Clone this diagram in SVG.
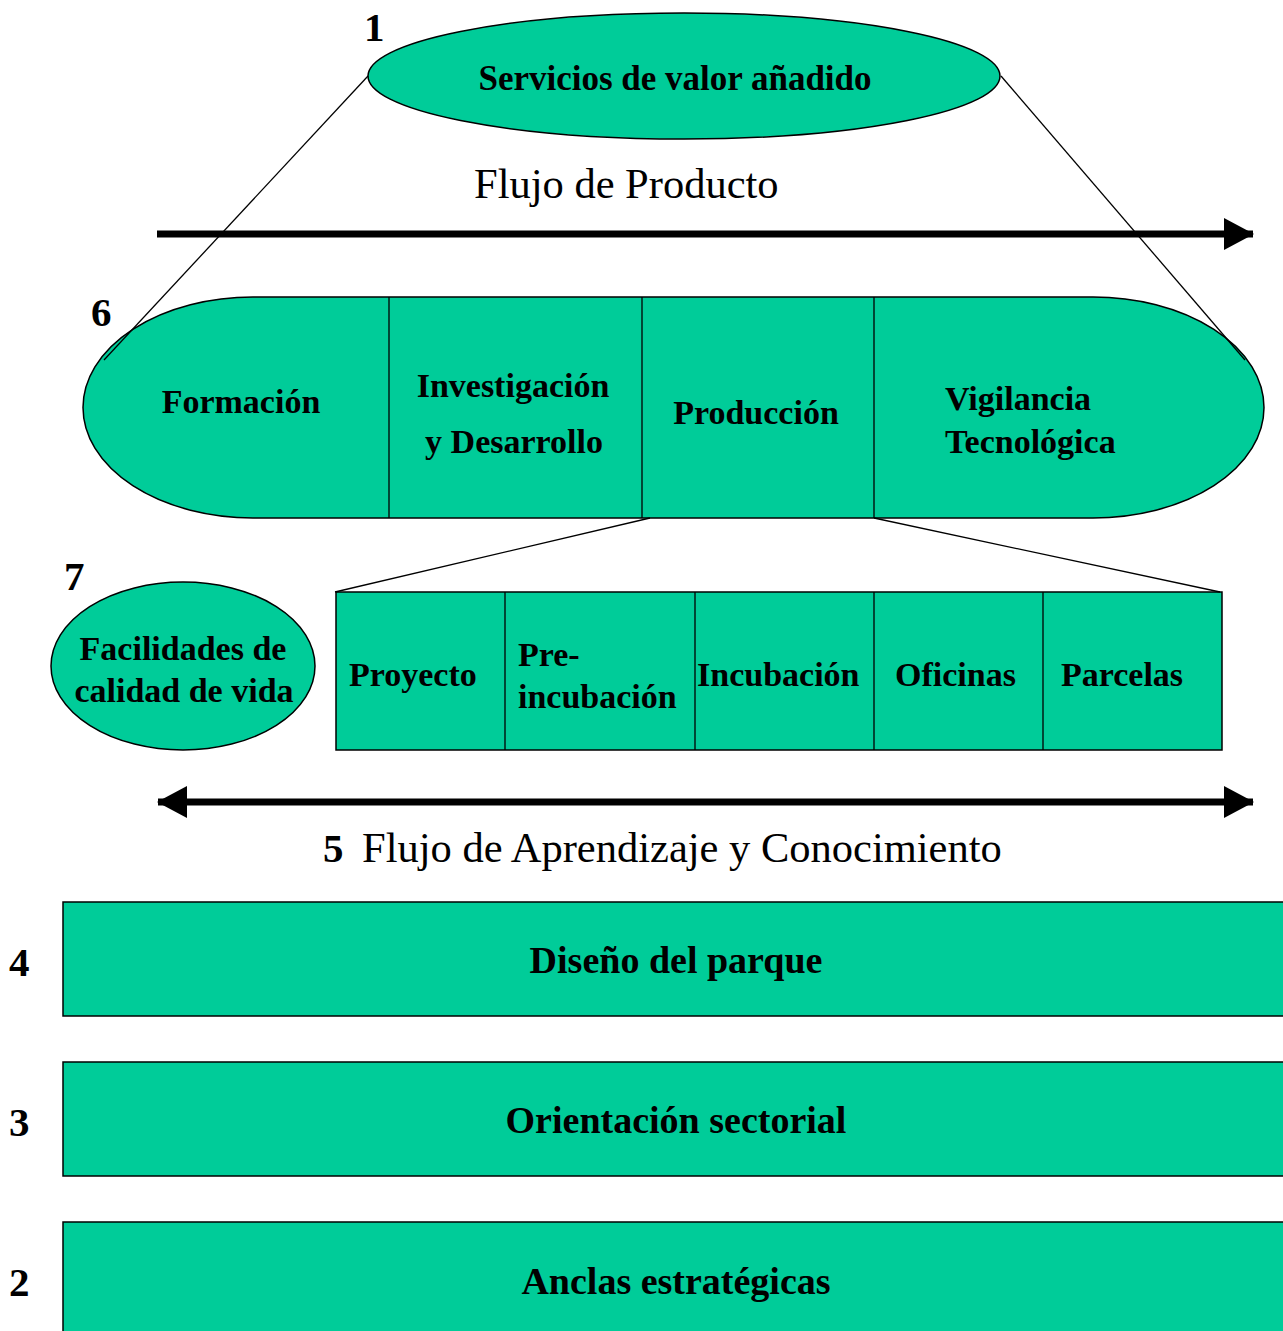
<svg xmlns="http://www.w3.org/2000/svg" width="1283" height="1331" viewBox="0 0 1283 1331">
  <style>
    .shape { fill: #00CC99; stroke: #000; stroke-width: 1.5; }
    .thin { stroke: #000; stroke-width: 1.3; fill: none; }
    .lbl { font-family: "Liberation Serif", "Times New Roman", serif; font-weight: bold; font-size: 34px; fill: #000; }
    .big { font-family: "Liberation Serif", "Times New Roman", serif; font-weight: bold; font-size: 38px; fill: #000; }
    .num { font-family: "Liberation Serif", "Times New Roman", serif; font-weight: bold; font-size: 41px; fill: #000; }
    .flow { font-family: "Liberation Serif", "Times New Roman", serif; font-size: 42.5px; fill: #000; }
    .mid { text-anchor: middle; }
  </style>
  <defs>
    <marker id="head" viewBox="0 0 30 32" refX="29" refY="16" markerWidth="30" markerHeight="32" markerUnits="userSpaceOnUse" orient="auto-start-reverse">
      <path d="M0,0 L30,16 L0,32 Z" fill="#000"/>
    </marker>
  </defs>
  <rect width="1283" height="1331" fill="#fff"/>

  <!-- 1: value-added services -->
  <g id="servicios">
    <ellipse class="shape" cx="684" cy="76" rx="316" ry="63"/>
    <text class="lbl mid" x="675" y="90" style="font-size:35px">Servicios de valor añadido</text>
    <text class="num" x="364" y="41">1</text>
  </g>

  <text class="flow" x="474" y="198">Flujo de Producto</text>

  <!-- 6: main stages capsule -->
  <g id="etapas">
    <path class="shape" d="M253,297 H1093 A171,110.5 0 0 1 1093,518 H253 A170,110.5 0 0 1 253,297 Z"/>
    <line class="thin" x1="389" y1="297" x2="389" y2="518"/>
    <line class="thin" x1="642" y1="297" x2="642" y2="518"/>
    <line class="thin" x1="874" y1="297" x2="874" y2="518"/>
    <text class="lbl mid" x="241" y="413">Formación</text>
    <text class="lbl mid" x="513" y="397">Investigación</text>
    <text class="lbl mid" x="514" y="453">y Desarrollo</text>
    <text class="lbl mid" x="756" y="424">Producción</text>
    <text class="lbl" x="945" y="410">Vigilancia</text>
    <text class="lbl" x="945" y="453">Tecnológica</text>
    <text class="num" x="91" y="326">6</text>
  </g>

  <!-- production sub-stages -->
  <g id="produccion">
    <rect class="shape" x="336" y="592" width="886" height="158"/>
    <line class="thin" x1="505" y1="592" x2="505" y2="750"/>
    <line class="thin" x1="695" y1="592" x2="695" y2="750"/>
    <line class="thin" x1="874" y1="592" x2="874" y2="750"/>
    <line class="thin" x1="1043" y1="592" x2="1043" y2="750"/>
    <text class="lbl" x="349" y="686">Proyecto</text>
    <text class="lbl" x="518" y="666">Pre-</text>
    <text class="lbl" x="518" y="708">incubación</text>
    <text class="lbl" x="697" y="686">Incubación</text>
    <text class="lbl" x="895" y="686">Oficinas</text>
    <text class="lbl" x="1061" y="686">Parcelas</text>
  </g>

  <!-- connectors: zoom lines and flow arrows -->
  <g id="connectors">
    <line class="thin" x1="368" y1="76" x2="104" y2="360"/>
    <line class="thin" x1="1001" y1="76" x2="1245" y2="360"/>
    <line class="thin" x1="650" y1="518" x2="335" y2="592"/>
    <line class="thin" x1="874" y1="518" x2="1220" y2="592"/>
    <line x1="157" y1="234" x2="1253" y2="234" stroke="#000" stroke-width="7" marker-end="url(#head)"/>
    <line x1="158" y1="802" x2="1253" y2="802" stroke="#000" stroke-width="7" marker-start="url(#head)" marker-end="url(#head)"/>
  </g>

  <!-- 7: quality of life -->
  <g id="calidad">
    <ellipse class="shape" cx="183" cy="666" rx="132" ry="84"/>
    <text class="lbl mid" x="183" y="660">Facilidades de</text>
    <text class="lbl mid" x="184" y="702">calidad de vida</text>
    <text class="num" x="64" y="590">7</text>
  </g>

  <g id="aprendizaje">
    <text class="num" x="323" y="862">5</text>
    <text class="flow" x="362" y="862">Flujo de Aprendizaje y Conocimiento</text>
  </g>

  <!-- 4, 3, 2: foundation layers -->
  <g id="diseno">
    <rect class="shape" x="63" y="902" width="1230" height="114"/>
    <text class="big mid" x="676" y="973">Diseño del parque</text>
    <text class="num" x="9" y="976">4</text>
  </g>
  <g id="orientacion">
    <rect class="shape" x="63" y="1062" width="1230" height="114"/>
    <text class="big mid" x="676" y="1133">Orientación sectorial</text>
    <text class="num" x="9" y="1136">3</text>
  </g>
  <g id="anclas">
    <rect class="shape" x="63" y="1222" width="1230" height="130"/>
    <text class="big mid" x="676" y="1294">Anclas estratégicas</text>
    <text class="num" x="9" y="1296">2</text>
  </g>
</svg>
